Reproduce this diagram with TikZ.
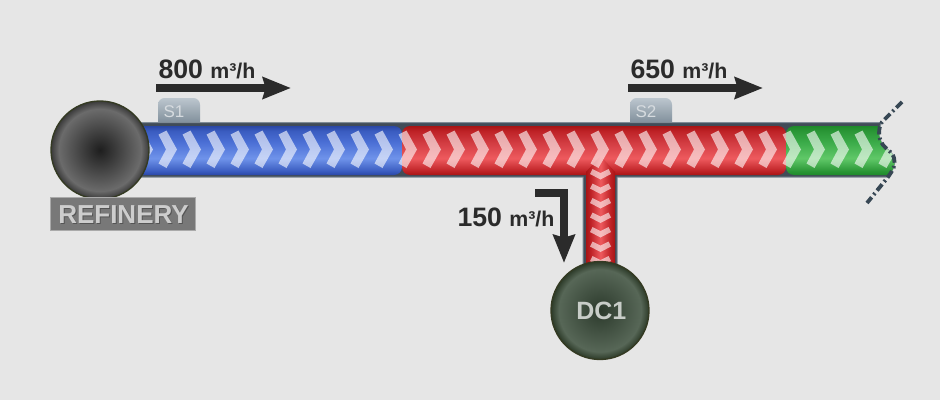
\documentclass[tikz,border=0pt]{standalone}
\usepackage{fontspec}
\setmainfont{Liberation Sans}
\usetikzlibrary{arrows.meta}

\definecolor{paper}{HTML}{E6E6E6}
\definecolor{ink}{HTML}{2B2B2B}
\definecolor{pipewall}{HTML}{414C58}
\definecolor{pipeedge}{HTML}{7F8B96}
\definecolor{bluedark}{HTML}{2A47A6}
\definecolor{bluemid}{HTML}{3A5CC0}
\definecolor{blueup}{HTML}{4C70D6}
\definecolor{bluelite}{HTML}{6F93EA}
\definecolor{reddark}{HTML}{A81414}
\definecolor{redmid}{HTML}{BE2226}
\definecolor{redup}{HTML}{D23C42}
\definecolor{redlite}{HTML}{EE5A5E}
\definecolor{greendark}{HTML}{1E8A2A}
\definecolor{greenmid}{HTML}{2A9636}
\definecolor{greenup}{HTML}{3CAC4A}
\definecolor{greenlite}{HTML}{60C868}
\definecolor{tablow}{HTML}{6F7F8C}
\definecolor{tabhigh}{HTML}{BCC6CE}
\definecolor{refcore}{HTML}{1E1E1E}
\definecolor{refring}{HTML}{6B6B6B}
\definecolor{refedge}{HTML}{3A3A3A}
\definecolor{dccore}{HTML}{2C3A2C}
\definecolor{dcring}{HTML}{576757}
\definecolor{dcedge}{HTML}{2C3A28}

\pgfdeclareverticalshading{bluefluid}{100bp}{color(0bp)=(bluedark); color(25bp)=(bluedark); color(29bp)=(bluemid); color(42bp)=(bluelite); color(58bp)=(blueup); color(70bp)=(bluemid); color(75bp)=(bluedark); color(100bp)=(bluedark)}
\pgfdeclareverticalshading{redfluid}{100bp}{color(0bp)=(reddark); color(25bp)=(reddark); color(29bp)=(redmid); color(42bp)=(redlite); color(58bp)=(redup); color(70bp)=(redmid); color(75bp)=(reddark); color(100bp)=(reddark)}
\pgfdeclareverticalshading{greenfluid}{100bp}{color(0bp)=(greendark); color(25bp)=(greendark); color(29bp)=(greenmid); color(42bp)=(greenlite); color(58bp)=(greenup); color(70bp)=(greenmid); color(75bp)=(greendark); color(100bp)=(greendark)}
\pgfdeclarehorizontalshading{reddrop}{100bp}{color(0bp)=(reddark); color(25bp)=(reddark); color(33bp)=(redmid); color(50bp)=(redlite); color(67bp)=(redmid); color(75bp)=(reddark); color(100bp)=(reddark)}
\pgfdeclareverticalshading{tabgrad}{100bp}{color(0bp)=(tablow); color(25bp)=(tablow); color(75bp)=(tabhigh); color(100bp)=(tabhigh)}
\pgfdeclareradialshading{refinerygrad}{\pgfpoint{0bp}{0bp}}{color(0bp)=(refcore); color(21bp)=(refring); color(25bp)=(refedge); color(50bp)=(refedge)}
\pgfdeclareradialshading{dcgrad}{\pgfpoint{0bp}{0bp}}{color(0bp)=(dccore); color(21bp)=(dcring); color(25bp)=(dcedge); color(50bp)=(dcedge)}

\tikzset{
  every picture/.style={line width=0.75pt},
  flowarrow/.style={ink,line width=6pt,-{Stealth[length=21pt,width=16pt,inset=2pt]}},
  chevron/.style={white,fill opacity=0.6},
  station/.style={circle,inner sep=0pt,minimum size=73.5pt,draw={rgb,255:red,52;green,58;blue,34},line width=1pt},
  flowtext/.style={ink,inner sep=0pt,font=\fontsize{20}{24}\selectfont\bfseries},
  tagtext/.style={inner sep=0pt,text={rgb,255:red,214;green,219;blue,223},font=\fontsize{12.75}{15}\selectfont},
  breakline/.style={color={rgb,255:red,55;green,71;blue,84},line width=2.9pt,dash pattern=on 6pt off 2.5pt on 1.5pt off 2.5pt},
}
\newcommand{\unitsize}{\fontsize{16}{18}\selectfont}

\begin{document}
\begin{tikzpicture}[x=0.75pt,y=0.75pt,yscale=-1,xscale=1]
\useasboundingbox (0,0) rectangle (940,400);
\fill [paper] (0,0) rectangle (940,400);

%Shapes: sensor tabs
\path [shading=tabgrad,rounded corners=5pt] (158,130) -- (158,98) -- (200,98) -- (200,130) -- cycle;
\path [shading=tabgrad,rounded corners=5pt] (630,130) -- (630,98) -- (672,98) -- (672,130) -- cycle;

%Shape: pipe walls
\draw [pipeedge,fill=pipewall] (130,122.5) -- (882,122.5) .. controls (878,128) and (878,138) .. (883,145) .. controls (887,150) and (892,151) .. (894,158) .. controls (896,165) and (893,170) .. (888,177) -- (617,177) -- (617,270) -- (583,270) -- (583,177) -- (130,177) -- cycle;

%Shapes: fluid
\path [shading=bluefluid,rounded corners=6pt] (120,126) rectangle (402,175);
\path [shading=redfluid,rounded corners=6pt] (402,126) rectangle (786,175);
\begin{scope}
\clip (770,110) -- (882,110) -- (882,122) .. controls (878,128) and (878,138) .. (883,145) .. controls (887,150) and (892,151) .. (894,158) .. controls (896,165) and (893,170) .. (888,177) -- (888,190) -- (770,190) -- cycle;
\path [shading=greenfluid,rounded corners=6pt] (786,126) rectangle (910,175);
\foreach \cx in {783,807,...,879}
  \fill [chevron,shift={(\cx,0)}] (-0.5,134.5) -- (7.5,130.5) -- (18,149.5) -- (7.5,168) -- (-0.5,163.5) -- (7,149.5) -- cycle;
\end{scope}
\path [shading=reddrop] (586,270) -- (586,172) -- (600.5,156) -- (615,172) -- (615,270) -- cycle;

%Chevrons along the main
\foreach \cx in {135,159,...,759}
  \fill [chevron,shift={(\cx,0)}] (-0.5,134.5) -- (7.5,130.5) -- (18,149.5) -- (7.5,168) -- (-0.5,163.5) -- (7,149.5) -- cycle;
%Chevrons down the branch
\foreach \cy in {178,192.5,...,265}
  \fill [chevron,shift={(600.5,\cy)}] (-10.5,-4) -- (-8,-9) -- (0,-5) -- (8,-9) -- (10.5,-4) -- (0,1.5) -- cycle;

% Stations
\draw (100,150) node (refinery) [station,shading=refinerygrad] {};
\draw (600,310.5) node (dcone) [station,shading=dcgrad,text={rgb,255:red,200;green,205;blue,200},font=\fontsize{18.75}{22}\selectfont\bfseries] {\kern2pt DC1};

% Text Node
\draw (50,197) node (refinerybox) [anchor=north west,minimum width=109pt,minimum height=25pt,inner sep=0pt,draw={rgb,255:red,170;green,170;blue,170},fill={rgb,255:red,120;green,120;blue,120}] {};
\draw (124.5,215.5) node (refineryshade) [text={rgb,255:red,85;green,85;blue,85},font=\fontsize{19.5}{23}\selectfont\bfseries,inner sep=0pt] {REFINERY};
\draw (123.5,214.5) node (refinerytext) [text={rgb,255:red,205;green,205;blue,205},font=\fontsize{19.5}{23}\selectfont\bfseries,inner sep=0pt] {REFINERY};
% Text Node
\draw (163,112) node (tagone) [tagtext,anchor=west] {S1};
% Text Node
\draw (635,112) node (tagtwo) [tagtext,anchor=west] {S2};
% Text Node
\draw (158,78) node (rateone) [flowtext,anchor=base west] {800 {\unitsize m³/h}};
% Text Node
\draw (630,78) node (ratetwo) [flowtext,anchor=base west] {650 {\unitsize m³/h}};
% Text Node
\draw (457,226) node (ratebranch) [flowtext,anchor=base west] {150 {\unitsize m³/h}};

%Flow arrows
\coordinate (arrowAstart) at (156,88);
\coordinate (arrowAend) at (291,88);
\coordinate (arrowBstart) at (628,88);
\coordinate (arrowBend) at (763,88);
\coordinate (arrowCstart) at (535,193);
\coordinate (arrowCbend) at (564,193);
\coordinate (arrowCend) at (564,263);
\draw [flowarrow] (arrowAstart) -- (arrowAend);
\draw [flowarrow] (arrowBstart) -- (arrowBend);
\draw [flowarrow] (arrowCstart) -- (arrowCbend) -- (arrowCend);

%Break line at the open end
\coordinate (breaktop) at (902,102);
\coordinate (breakbottom) at (867,203);
\draw [breakline] (breaktop) -- (882,122) .. controls (878,128) and (878,138) .. (883,145) .. controls (887,150) and (892,151) .. (894,158) .. controls (896,165) and (893,170) .. (888,177) -- (breakbottom);

\end{tikzpicture}
\end{document}
